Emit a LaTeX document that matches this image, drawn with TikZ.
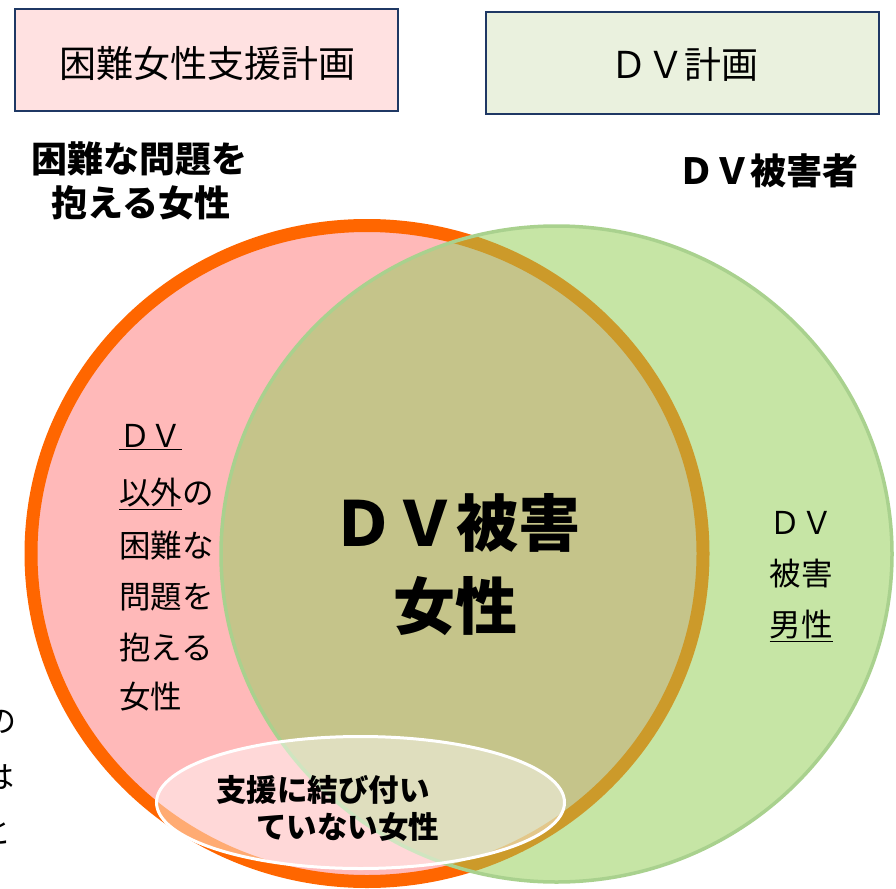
\documentclass[tikz,border=0pt]{standalone}
\usepackage{fontspec}
\setmainfont{Noto Sans CJK JP}
\definecolor{pinkfill}{HTML}{FFB9B9}
\definecolor{orangeline}{HTML}{FF6600}
\definecolor{greenfill}{HTML}{C6E5A5}
\definecolor{greenline}{HTML}{A9D18E}
\definecolor{olivefill}{HTML}{C5C48A}
\definecolor{goldline}{HTML}{CC9A2A}
\definecolor{boxpink}{HTML}{FFE1E1}
\definecolor{boxgreen}{HTML}{EAF1DE}
\definecolor{navyline}{HTML}{1F3864}
\begin{document}
\begin{tikzpicture}[x=1pt,y=-1pt,
  planbox/.style={draw=navyline, line width=2pt, inner sep=0pt},
  txt/.style={inner sep=0pt, text=black, align=center},
  boxtxt/.style={txt, font=\fontsize{37}{44}\selectfont},
  headtxt/.style={txt, font=\fontsize{36}{43}\selectfont\bfseries},
  sidetxt/.style={txt, anchor=west, font=\fontsize{31.5}{38}\selectfont},
  bigtxt/.style={txt, font=\fontsize{62}{78}\selectfont\bfseries},
  elltxt/.style={txt, anchor=west, font=\fontsize{30.5}{36}\selectfont\bfseries}]
\useasboundingbox (0,0) rectangle (896,888);
\clip (0,0) rectangle (896,888);
\fill[white] (0,0) rectangle (896,888);

% plan boxes
\node[planbox, fill=boxpink, minimum width=383pt, minimum height=102pt] (plana) at (206.5,60) {};
\node[planbox, fill=boxgreen, minimum width=393pt, minimum height=102pt] (planb) at (682.5,63) {};
\node[boxtxt] (planatxt) at (207,63.5) {困難女性支援計画};
\node[boxtxt] (planbtxt) at (684,64.5) {ＤＶ計画};

% headings
\node[headtxt] (heada1) at (139,159) {困難な問題を};
\node[headtxt] (heada2) at (141,203) {抱える女性};
\node[headtxt] (headb) at (768,171) {ＤＶ被害者};

% Venn circles
\path[fill=pinkfill, draw=orangeline, line width=13pt]
  (367,553.5) ellipse [x radius=336pt, y radius=328pt];
\fill[greenfill] (556.5,554) ellipse [x radius=335.5pt, y radius=328pt];
\begin{scope}
  \clip (556.5,554) ellipse [x radius=335.5pt, y radius=328pt];
  \path[fill=olivefill, draw=goldline, line width=13pt]
    (367,553.5) ellipse [x radius=336pt, y radius=328pt];
\end{scope}
\draw[greenline, line width=3.5pt] (556.5,554) ellipse [x radius=335.5pt, y radius=328pt];

% bottom ellipse
\path[fill=white, fill opacity=0.45, draw=white, line width=3pt]
  (360.5,802.5) ellipse [x radius=204pt, y radius=66pt];

% left column
\node[sidetxt] (l1) at (119,437) {\underline{ＤＶ}};
\node[sidetxt] (l2) at (119,494) {\underline{以外}の};
\node[sidetxt] (l3) at (119,546) {困難な};
\node[sidetxt] (l4) at (119,597) {問題を};
\node[sidetxt] (l5) at (119,647) {抱える};
\node[sidetxt] (l6) at (119,697) {女性};

% right column
\node[txt, font=\fontsize{31.5}{38}\selectfont] (r1) at (801,523) {ＤＶ};
\node[txt, font=\fontsize{31.5}{38}\selectfont] (r2) at (801,574) {被害};
\node[txt, font=\fontsize{31.5}{38}\selectfont] (r3) at (801,626) {\underline{男性}};

% center
\node[bigtxt] (c1) at (456,523) {ＤＶ被害};
\node[bigtxt] (c2) at (455,606) {女性};

% ellipse text
\node[elltxt] (e1) at (216,790) {支援に結び付い};
\node[elltxt] (e2) at (256,827) {ていない女性};

% cut-off characters at the left edge (as in the reference)
\node[txt, font=\fontsize{31}{38}\selectfont] (k1) at (1,722) {の};
\node[txt, font=\fontsize{31}{38}\selectfont] (k2) at (-1,777) {は};
\node[txt, font=\fontsize{31}{38}\selectfont] (k3) at (-4,832) {と};
\end{tikzpicture}
\end{document}
